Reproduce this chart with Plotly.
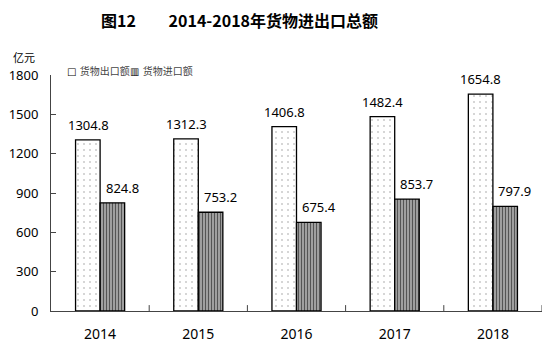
import plotly.graph_objects as go

years = ["2014", "2015", "2016", "2017", "2018"]
exports = [1304.8, 1312.3, 1406.8, 1482.4, 1654.8]
imports = [824.8, 753.2, 675.4, 853.7, 797.9]
yticks = [0, 300, 600, 900, 1200, 1500, 1800]
series_names = ["货物出口额", "货物进口额"]

FONT = "Noto Sans, Noto Sans CJK SC, sans-serif"
xpos = list(range(len(years)))

fig = go.Figure()
fig.add_trace(go.Bar(
    x=xpos, y=exports, name=series_names[0], showlegend=False,
    marker=dict(color="white", line=dict(color="black", width=1.3),
                pattern=dict(shape=".", fgcolor="#444", bgcolor="white", size=6, solidity=0.06)),
))
fig.add_trace(go.Bar(
    x=xpos, y=imports, name=series_names[1], showlegend=False,
    marker=dict(color="#909090", line=dict(color="black", width=1.3),
                pattern=dict(shape="|", fgcolor="black", bgcolor="#a8a8a8", size=3, solidity=0.4)),
))

for i in xpos:
    fig.add_annotation(x=i, y=exports[i], text=f"{exports[i]:.1f}", xref="x", yref="y",
                       showarrow=False, xshift=-12, yshift=15,
                       font=dict(family=FONT, size=13, color="black"))
    fig.add_annotation(x=i, y=imports[i], text=f"{imports[i]:.1f}", xref="x", yref="y",
                       showarrow=False, xshift=22, yshift=15,
                       font=dict(family=FONT, size=13, color="black"))

# title
fig.add_annotation(text="<b>图12" + "&nbsp;" * 9 + "2014-2018年货物进出口总额</b>",
                   xref="paper", yref="paper", x=0.5, y=1, xanchor="center", yanchor="middle",
                   xshift=-57, yshift=55, showarrow=False,
                   font=dict(family="Noto Sans CJK SC", size=16, color="black"))
# unit
fig.add_annotation(text="亿元", xref="paper", yref="paper", x=0, y=1, xanchor="right",
                   yanchor="middle", xshift=-14, yshift=18, showarrow=False,
                   font=dict(family="Noto Sans CJK SC", size=11, color="black"))
# legend (compact, as in the reference)
fig.add_annotation(text="<span style='color:black'>□</span> " + series_names[0],
                   xref="paper", yref="paper", x=0, y=1,
                   xanchor="left", yanchor="middle", xshift=14, yshift=4, showarrow=False,
                   font=dict(family="DejaVu Sans, Noto Sans CJK SC", size=10, color="#444"))
fig.add_annotation(text="<span style='color:black'>▥</span> " + series_names[1],
                   xref="paper", yref="paper", x=0, y=1,
                   xanchor="left", yanchor="middle", xshift=77, yshift=4, showarrow=False,
                   font=dict(family="DejaVu Sans, Noto Sans CJK SC", size=10, color="#444"))

fig.update_layout(
    width=554, height=355,
    margin=dict(l=43, r=20, t=67, b=52),
    plot_bgcolor="white", paper_bgcolor="white",
    barmode="group", bargap=0.5, bargroupgap=0,
    showlegend=False,
    font=dict(family=FONT, color="black"),
)
fig.update_xaxes(range=[-0.5, len(years) - 0.5], tickvals=xpos, ticktext=years, automargin=False,
                 showline=True, linecolor="#444", linewidth=1, ticks="", zeroline=False,
                 showgrid=False, tickfont=dict(size=14, family=FONT), ticklabelstandoff=10)
fig.update_yaxes(range=[0, 1800], tickvals=yticks, showline=True, linecolor="#444", linewidth=1,
                 automargin=False,
                 ticks="inside", ticklen=5, tickcolor="#444", showgrid=False, zeroline=False,
                 tickfont=dict(size=13, family=FONT), ticklabelstandoff=9)

# category boundary ticks on x axis
for k in range(1, len(years) + 1):
    fig.add_shape(type="line", xref="x", yref="paper", x0=k - 0.5, x1=k - 0.5, y0=0, y1=0.025,
                  line=dict(color="#444", width=1))

fig.write_html("out.html")
